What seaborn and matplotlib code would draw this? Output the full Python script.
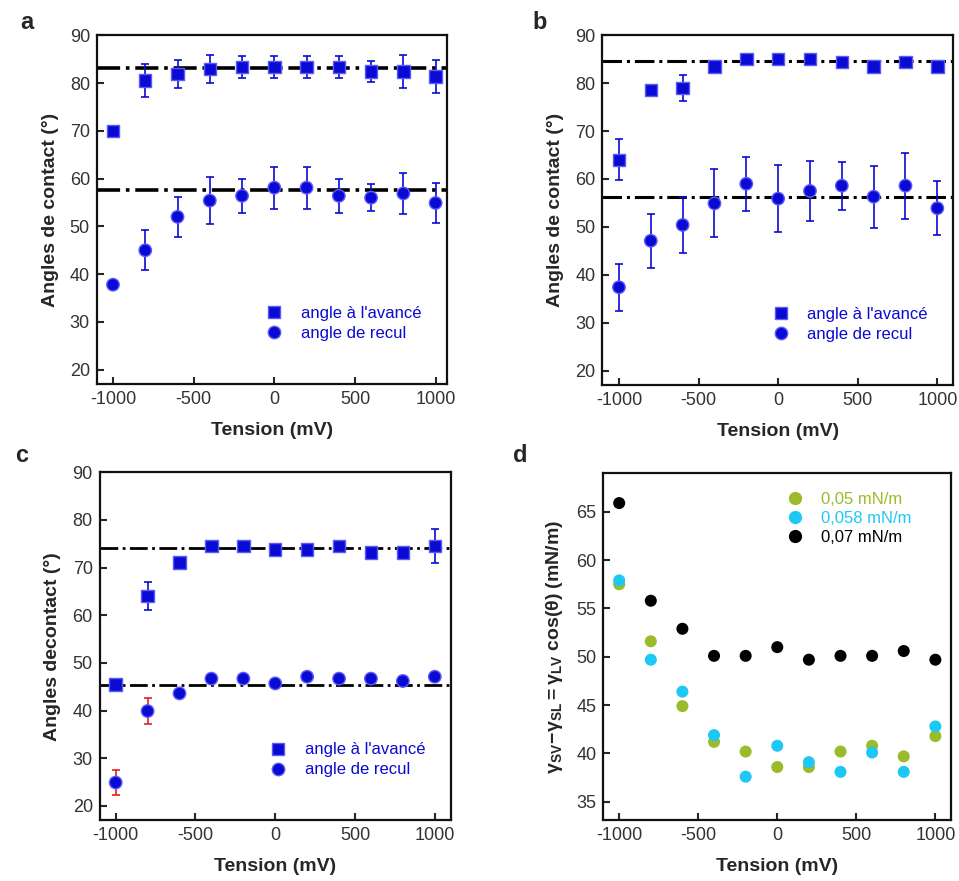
import numpy as np
import pandas as pd
import matplotlib
matplotlib.use('Agg')
import matplotlib.pyplot as plt
import seaborn as sns

sns.set_style('ticks')
plt.rcParams['font.family'] = ['Liberation Sans', 'DejaVu Sans']
plt.rcParams['axes.unicode_minus'] = False
plt.rcParams['mathtext.fontset'] = 'custom'
plt.rcParams['mathtext.rm'] = 'Liberation Sans'
plt.rcParams['mathtext.bf'] = 'Liberation Sans:bold'
plt.rcParams['mathtext.it'] = 'Liberation Sans:italic'

tension = [-1000, -800, -600, -400, -200, 0, 200, 400, 600, 800, 1000]

# panel a
a_adv = [70.0, 80.5, 81.9, 82.9, 83.3, 83.3, 83.3, 83.3, 82.4, 82.4, 81.4]
a_adv_err = [0, 3.5, 3.0, 2.9, 2.3, 2.3, 2.3, 2.3, 2.2, 3.5, 3.5]
a_rec = [37.8, 45.0, 52.0, 55.4, 56.4, 58.1, 58.1, 56.4, 56.0, 56.9, 54.9]
a_rec_err = [0, 4.2, 4.2, 4.9, 3.6, 4.4, 4.4, 3.6, 2.8, 4.2, 4.2]
a_lines = [83.1, 57.7]

# panel b
b_adv = [64.0, 78.6, 79.0, 83.5, 85.0, 85.0, 85.0, 84.4, 83.5, 84.4, 83.5]
b_adv_err = [4.3, 0, 2.8, 0, 0, 0, 0, 0, 0, 0, 0]
b_rec = [37.4, 47.1, 50.4, 54.9, 59.0, 55.9, 57.5, 58.6, 56.3, 58.6, 53.9]
b_rec_err = [4.9, 5.6, 5.8, 7.1, 5.6, 7.0, 6.3, 5.0, 6.5, 6.9, 5.6]
b_lines = [84.7, 56.2]

# panel c
c_adv = [45.5, 64.0, 71.1, 74.5, 74.5, 73.8, 73.8, 74.5, 73.2, 73.2, 74.5]
c_adv_err = [0, 2.9, 0, 0, 0, 0, 0, 0, 0, 0, 3.5]
c_rec = [24.9, 39.9, 43.6, 46.7, 46.7, 45.7, 47.1, 46.7, 46.7, 46.2, 47.1]
c_rec_err = [2.7, 2.8, 0, 0, 0, 0, 0.7, 0, 0, 1.0, 0.7]
c_lines = [74.1, 45.3]

# panel d
d_005 = [57.5, 51.6, 44.9, 41.2, 40.2, 38.6, 38.6, 40.2, 40.8, 39.7, 41.8]
d_0058 = [57.9, 49.7, 46.4, 41.9, 37.6, 40.8, 39.1, 38.1, 40.1, 38.1, 42.8]
d_007 = [65.9, 55.8, 52.9, 50.1, 50.1, 51.0, 49.7, 50.1, 50.1, 50.6, 49.7]
d_labels = ['0,05 mN/m', '0,058 mN/m', '0,07 mN/m']
d_colors = ['#9bbb2a', '#1ec8f5', '#000000']

blue = '#0a0ad2'
tick_col = '#333333'

fig = plt.figure(figsize=(9.59, 8.81), dpi=100)
ax_a = fig.add_axes([0.101, 0.564, 0.365, 0.396])
ax_b = fig.add_axes([0.628, 0.563, 0.366, 0.397])
ax_c = fig.add_axes([0.104, 0.069, 0.366, 0.395])
ax_d = fig.add_axes([0.629, 0.069, 0.363, 0.394])


def style(ax, xlim, ylim, yticks, ylabel):
    ax.set_xlim(*xlim)
    ax.set_ylim(*ylim)
    ax.set_xticks([-1000, -500, 0, 500, 1000])
    ax.set_yticks(yticks)
    ax.tick_params(direction='in', length=5, width=1.5, labelsize=13,
                   labelcolor=tick_col, pad=5)
    for s in ax.spines.values():
        s.set_linewidth(1.6)
        s.set_color('#111111')
    ax.set_xlabel('Tension (mV)', fontsize=14, fontweight='bold', labelpad=10)
    ax.set_ylabel(ylabel, fontsize=14, fontweight='bold', labelpad=8)


def angle_panel(ax, adv, adv_err, rec, rec_err, lines, xlim, ylabel,
                rec_err_col=blue, lw_line=2.2):
    for y in lines:
        ax.axhline(y, color='black', ls='-.', lw=lw_line, zorder=1)
    ax.errorbar(tension, adv, yerr=adv_err, fmt='none', ecolor=blue,
                elinewidth=1.2, capsize=3, capthick=1.2, zorder=2)
    ax.errorbar(tension, rec, yerr=rec_err, fmt='none', ecolor=rec_err_col,
                elinewidth=1.2, capsize=3, capthick=1.2, zorder=2)
    df = pd.DataFrame({'x': tension + tension,
                       'y': adv + rec,
                       'kind': ["angle à l'avancé"] * len(tension)
                       + ['angle de recul'] * len(tension)})
    sns.scatterplot(data=df, x='x', y='y', style='kind',
                    markers={"angle à l'avancé": 's', 'angle de recul': 'o'},
                    color=blue, edgecolor='#5a5aff', linewidth=1.0, s=80,
                    ax=ax, zorder=3)
    leg = ax.legend(loc='lower right', frameon=False, fontsize=12,
                    handletextpad=0.6, labelspacing=0.3,
                    bbox_to_anchor=(0.97, 0.08))
    for t in leg.get_texts():
        t.set_color(blue)
    style(ax, xlim, (17.0, 90), [20, 30, 40, 50, 60, 70, 80, 90], ylabel)


angle_panel(ax_a, a_adv, a_adv_err, a_rec, a_rec_err, a_lines, (-1100, 1070),
            'Angles de contact (°)', lw_line=2.6)
angle_panel(ax_b, b_adv, b_adv_err, b_rec, b_rec_err, b_lines, (-1105, 1100),
            'Angles de contact (°)', lw_line=2.2)
angle_panel(ax_c, c_adv, c_adv_err, c_rec, c_rec_err, c_lines, (-1100, 1100),
            'Angles decontact (°)', rec_err_col='#e02020', lw_line=2.0)

dfd = pd.DataFrame({'x': tension * 3,
                    'y': d_005 + d_0058 + d_007,
                    'serie': [d_labels[0]] * 11 + [d_labels[1]] * 11 + [d_labels[2]] * 11})
sns.scatterplot(data=dfd, x='x', y='y', hue='serie', palette=d_colors,
                s=75, linewidth=0, ax=ax_d)
leg = ax_d.legend(loc='upper right', frameon=False, fontsize=12,
                  handletextpad=0.6, labelspacing=0.25,
                  bbox_to_anchor=(0.93, 0.99), markerscale=1.1)
for t, c in zip(leg.get_texts(), d_colors):
    t.set_color(c)
style(ax_d, (-1101, 1101), (33.1, 69), [35, 40, 45, 50, 55, 60, 65],
      r'$\mathbf{\gamma_{SV}\!-\!\gamma_{SL}=\gamma_{LV}}$ cos(θ) (mN/m)')

for txt, x, y in [('a', 0.028, 0.975), ('b', 0.563, 0.975),
                  ('c', 0.023, 0.483), ('d', 0.543, 0.483)]:
    fig.text(x, y, txt, fontsize=17, fontweight='bold', ha='center', va='center')

fig.savefig('out.png', dpi=100)
